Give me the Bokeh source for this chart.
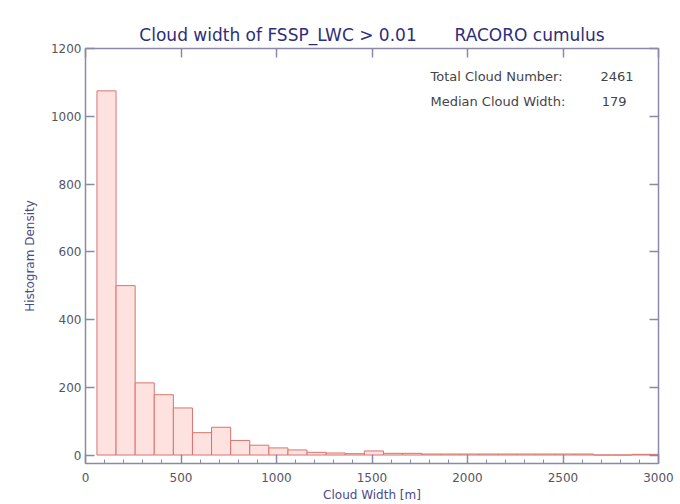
from bokeh.plotting import figure
from bokeh.models import Range1d, LinearAxis, SingleIntervalTicker, FixedTicker, Label
from bokeh.embed import file_html
from bokeh.resources import INLINE

# ---- data ----
bin_left = [60 + 100 * i for i in range(30)]
counts = [1075, 500, 213, 178, 139, 66, 82, 43, 29, 21,
          15, 8, 6, 4, 12, 5, 5, 3, 3, 3,
          3, 3, 3, 3, 3, 3, 0, 0, 2, 2]
bin_width = 100
x_ticks = [0, 500, 1000, 1500, 2000, 2500, 3000]
y_ticks = [0, 200, 400, 600, 800, 1000, 1200]
title_text = "Cloud width of FSSP_LWC > 0.01" + "\u00a0" * 7 + "RACORO cumulus"
total_number = "2461"
median_width = "179"

FONT = "DejaVu Sans"
AXIS_COLOR = "#8a8aa6"
TICK_LABEL_COLOR = "#55555f"
NAVY = "#2e2e7a"

p = figure(width=680, height=504, output_backend="svg", toolbar_location=None,
           x_range=Range1d(0, 3000), y_range=Range1d(-25, 1200),
           x_axis_type=None, y_axis_type=None,
           min_border_left=85, min_border_right=22, min_border_top=48, min_border_bottom=41)

p.title.text = title_text
p.title.align = "center"
p.title.text_font = FONT
p.title.text_font_size = "17px"
p.title.text_font_style = "normal"
p.title.text_color = NAVY
p.title.standoff = 7

p.xgrid.visible = False
p.ygrid.visible = False
p.outline_line_color = None
p.background_fill_color = "white"
p.border_fill_color = "white"

right_edges = [b + bin_width for b in bin_left]
p.quad(left=bin_left, right=right_edges, bottom=0, top=counts,
       fill_color="#fde2e0", line_color="#d9736f", line_width=1)

def style_axis(ax, labels=True):
    ax.axis_line_color = AXIS_COLOR
    ax.axis_line_width = 1.5
    ax.major_tick_line_color = AXIS_COLOR
    ax.minor_tick_line_color = AXIS_COLOR
    ax.major_tick_line_width = 1.5
    ax.major_tick_out = 0
    ax.minor_tick_out = 0
    ax.major_tick_in = 9
    ax.minor_tick_in = 4
    ax.major_label_text_font = FONT
    ax.major_label_text_font_size = "12px"
    ax.major_label_text_color = TICK_LABEL_COLOR
    ax.axis_label_text_font = FONT
    ax.axis_label_text_font_size = "12px"
    ax.axis_label_text_font_style = "normal"
    ax.axis_label_text_color = "#4a4a8a"
    if not labels:
        ax.major_label_text_font_size = "0px"
        ax.major_label_text_color = None

# bottom axis
xb = LinearAxis(ticker=SingleIntervalTicker(interval=500, num_minor_ticks=5),
                axis_label="Cloud Width [m]")
style_axis(xb)
xb.major_label_standoff = 9
xb.axis_label_standoff = 3
p.add_layout(xb, "below")

# top axis
xt = LinearAxis(ticker=FixedTicker(ticks=x_ticks))
style_axis(xt, labels=False)
xt.minor_tick_in = 0
p.add_layout(xt, "above")

# left axis
yl = LinearAxis(ticker=FixedTicker(ticks=y_ticks), axis_label="Histogram Density")
style_axis(yl)
yl.minor_tick_in = 0
yl.major_label_standoff = 4
yl.axis_label_standoff = 11
p.add_layout(yl, "left")

# right axis
yr = LinearAxis(ticker=FixedTicker(ticks=y_ticks))
style_axis(yr, labels=False)
yr.minor_tick_in = 0
p.add_layout(yr, "right")

# annotations
for txt, x, y, align in [("Total Cloud Number:", 1806, 1118, "left"),
                         (total_number, 2869, 1118, "right"),
                         ("Median Cloud Width:", 1806, 1044, "left"),
                         (median_width, 2833, 1044, "right")]:
    p.add_layout(Label(x=x, y=y, text=txt, text_align=align, text_baseline="middle",
                       text_font=FONT, text_font_size="13px", text_color="#444448"))

open("out.html", "w").write(file_html(p, INLINE))
